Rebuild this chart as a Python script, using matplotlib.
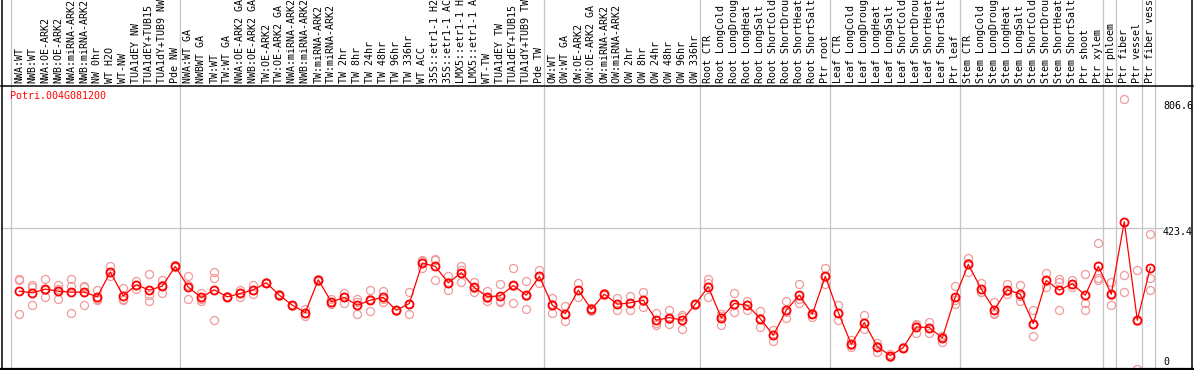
import matplotlib
matplotlib.use("Agg")
import matplotlib.pyplot as plt
import matplotlib.transforms as mtransforms
import numpy as np

gene = "Potri.004G081200"

samples = [
    "NWA:WT", "NWB:WT", "NWA:OE-ARK2", "NWB:OE-ARK2", "NWA:miRNA-ARK2", "NWB:miRNA-ARK2",
    "NW 0hr", "WT H2O", "WT-NW", "TUA1dEY NW", "TUA1dEY+TUB15 NW", "TUA1dY+TUB9 NW", "Pde NW",
    "NWA:WT GA", "NWBWT GA", "TW:WT", "TW:WT GA", "NWA:OE-ARK2 GA", "NWB:OE-ARK2 GA",
    "TW:OE-ARK2", "TW:OE-ARK2 GA", "NWA:miRNA-ARK2 GA", "NWB:miRNA-ARK2 GA", "TW:miRNA-ARK2",
    "TW:miRNA-ARK2 GA", "TW 2hr", "TW 8hr", "TW 24hr", "TW 48hr", "TW 96hr", "TW 336hr",
    "WT ACC", "35S::etr1-1 H2O", "35S::etr1-1 ACC", "LMX5::etr1-1 H2O", "LMX5::etr1-1 ACC",
    "WT-TW", "TUA1dEY TW", "TUA1dEY+TUB15 TW", "TUA1dY+TUB9 TW", "Pde TW",
    "OW:WT", "OW:WT GA", "OW:OE-ARK2", "OW:OE-ARK2 GA", "OW:miRNA-ARK2", "OW:miRNA-ARK2 GA",
    "OW 2hr", "OW 8hr", "OW 24hr", "OW 48hr", "OW 96hr", "OW 336hr",
    "Root CTR", "Root LongCold", "Root LongDrought", "Root LongHeat", "Root LongSalt",
    "Root ShortCold", "Root ShortDrought", "Root ShortHeat", "Root ShortSalt", "Ptr root",
    "Leaf CTR", "Leaf LongCold", "Leaf LongDrought", "Leaf LongHeat", "Leaf LongSalt",
    "Leaf ShortCold", "Leaf ShortDrought", "Leaf ShortHeat", "Leaf ShortSalt", "Ptr leaf",
    "Stem CTR", "Stem LongCold", "Stem LongDrought", "Stem LongHeat", "Stem LongSalt",
    "Stem ShortCold", "Stem ShortDrought", "Stem ShortHeat", "Stem ShortSalt", "Ptr shoot",
    "Ptr xylem", "Ptr phloem", "Ptr fiber", "Ptr vessel", "Ptr fiber vessel",
]

# index of first sample in each group
group_starts = [0, 13, 41, 53, 63, 73, 84, 85, 87, 88]

means = [
    233, 228, 239, 233, 230, 230, 216, 290, 219, 252, 236, 248, 307,
    245, 214, 237, 216, 226, 237, 258, 221, 191, 169, 267, 201, 214, 191, 206, 214, 176,
    196, 317, 307, 258, 288, 244, 216, 219, 250, 221, 277,
    191, 166, 236, 179, 224, 194, 198, 206, 146, 154, 146, 194,
    246, 153, 196, 191, 151, 101, 176, 221, 164, 277,
    169, 74, 139, 67, 40, 64, 126, 124, 93, 216,
    313, 239, 178, 237, 224, 136, 265, 236, 255, 221, 307,
    224, 441, 146, 303,
]

rep_hi = [
    270, 250, 270, 252, 268, 248, 237, 308, 241, 263, 283, 265, 310,
    277, 226, 290, 218, 236, 250, 260, 224, 193, 181, 270, 208, 228, 208, 236, 233, 178,
    229, 327, 328, 278, 308, 260, 234, 253, 303, 263, 297,
    211, 188, 257, 184, 226, 211, 218, 229, 169, 176, 161, 196,
    268, 166, 226, 204, 174, 116, 203, 255, 168, 302,
    193, 86, 161, 78, 45, 66, 136, 141, 98, 248,
    332, 257, 201, 255, 250, 176, 288, 270, 265, 285, 378,
    260, 806.6, 295, 405,
]
rep_mid = [
    265, 244, 235, 240, 248, 244, 209, 290, 209, 252, 221, 250, 306,
    250, 208, 273, 216, 226, 237, 258, 221, 191, 168, 266, 201, 215, 200, 208, 210, 176,
    196, 322, 326, 260, 296, 243, 211, 204, 248, 219, 277,
    194, 166, 236, 178, 224, 194, 198, 204, 137, 150, 157, 194,
    256, 160, 191, 191, 153, 103, 172, 209, 164, 275,
    168, 72, 137, 70, 40, 64, 131, 122, 96, 205,
    318, 231, 168, 232, 218, 134, 262, 260, 255, 199, 273,
    222, 282, 143, 273,
]
rep_lo = [
    164, 193, 214, 208, 169, 193, 206, 277, 207, 240, 204, 228, 305,
    208, 204, 148, 214, 216, 224, 256, 218, 188, 159, 264, 194, 198, 166, 173, 201, 174,
    164, 302, 267, 236, 260, 229, 204, 201, 199, 181, 257,
    168, 143, 214, 175, 222, 178, 178, 186, 133, 136, 121, 191,
    214, 133, 171, 178, 126, 84, 153, 199, 156, 255,
    146, 65, 119, 52, 36, 62, 109, 109, 82, 196,
    290, 229, 166, 224, 204, 99, 246, 178, 246, 178, 265,
    191, 229, 0, 236,
]

ymax_label = 806.6
ytop = ymax_label * 1.05
ymid = 423.4

W, H = 1194, 370
fig = plt.figure(figsize=(W / 100, H / 100), dpi=100)
# axes in pixel geometry
x0_px, x1_px, ytop_px, ybot_px = 1, 1193, 86, 369
ax = fig.add_axes([x0_px / W, (H - ybot_px) / H, (x1_px - x0_px) / W, (ybot_px - ytop_px) / H])
first_px, step_px = 19.3, 13.0
ax.set_xlim((x0_px - first_px) / step_px, (x1_px - first_px) / step_px)
ax.set_ylim(0, ytop)
for s in ax.spines.values():
    s.set_visible(False)
ax.set_xticks([])
ax.set_yticks([])

gray = "#c4c4c4"
ext = (ybot_px - 0) / (ybot_px - ytop_px)  # axes-fraction of figure top
trans = mtransforms.blended_transform_factory(ax.transData, ax.transAxes)
for g in group_starts:
    xg = g - 0.65
    ax.plot([xg, xg], [0, ext], color=gray, lw=0.9, transform=trans, clip_on=False, zorder=1)

# midline grid
xend = (1162 - first_px) / step_px
ax.plot([ax.get_xlim()[0], xend], [ymid, ymid], color=gray, lw=0.9, zorder=1)

# black frame
ax.plot([ax.get_xlim()[0], ax.get_xlim()[1]], [ytop, ytop], color="black", lw=1.1, clip_on=False, zorder=5)
ax.plot([ax.get_xlim()[0], ax.get_xlim()[1]], [0, 0], color="black", lw=1.6, clip_on=False, zorder=5)
tl = mtransforms.blended_transform_factory(ax.transAxes, ax.transAxes)
ax.plot([0.0005, 0.0005], [0, ext], color="black", lw=1.1, transform=tl, clip_on=False, zorder=5)
ax.plot([0.9995, 0.9995], [0, ext], color="black", lw=1.1, transform=tl, clip_on=False, zorder=5)

x = np.arange(len(samples))
rep_color = "#f09a9a"
for reps in (rep_hi, rep_mid, rep_lo):
    ax.plot(x, reps, linestyle="none", marker="o", ms=5.8, mfc="none", mec=rep_color, mew=0.9, zorder=2)
ax.plot(x, means, color="red", lw=0.9, marker="o", ms=5.8, mfc="none", mec="red", mew=1.3, zorder=3)

mono = "DejaVu Sans Mono"
for i, lab in enumerate(samples):
    ax.annotate(lab, xy=(i, 1.0), xycoords=trans, xytext=(0, 2.2), textcoords="offset points",
                rotation=90, ha="center", va="bottom", fontsize=7.2, family=mono,
                annotation_clip=False)

fig.text(10 / W, 1 - 96 / H, gene, color="red", fontsize=7.2, family=mono, ha="left", va="center")
fig.text(1163 / W, 1 - 106 / H, f"{ymax_label}", fontsize=7.2, family=mono, ha="left", va="center")
fig.text(1163 / W, 1 - 232 / H, f"{ymid}", fontsize=7.2, family=mono, ha="left", va="center")
fig.text(1163 / W, 1 - 362 / H, "0", fontsize=7.2, family=mono, ha="left", va="center")

fig.savefig("out.png", dpi=100)
